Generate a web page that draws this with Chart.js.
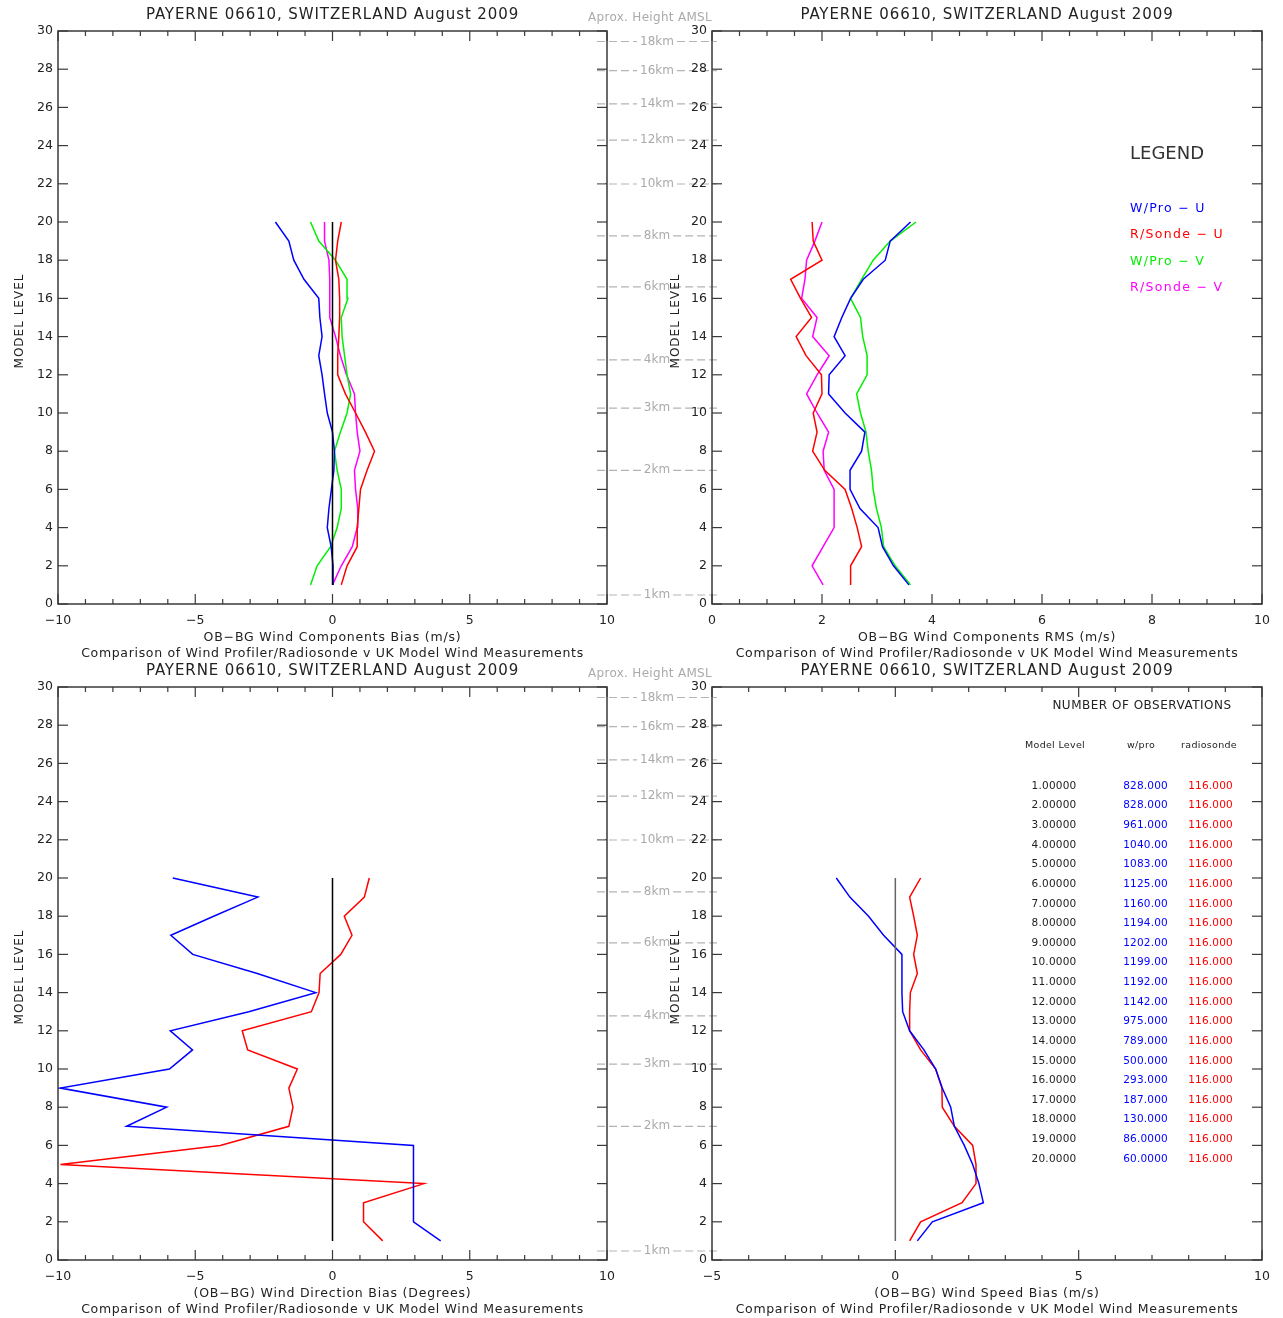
<!DOCTYPE html>
<html>
<head>
<meta charset="utf-8">
<script src="https://cdn.jsdelivr.net/npm/chart.js@4/dist/chart.umd.min.js"></script>
<style>
  body { margin: 0; background: #fff; width: 1283px; height: 1318px; position: relative; overflow: hidden; }
  canvas { position: absolute; }
</style>
</head>
<body>
<canvas id="tl" width="730" height="662" style="left:0;top:0"></canvas>
<canvas id="tr" width="643" height="662" style="left:640px;top:0"></canvas>
<canvas id="bl" width="730" height="662" style="left:0;top:656px"></canvas>
<canvas id="br" width="643" height="662" style="left:640px;top:656px"></canvas>
<script>
// Model levels 1..20 (y values of every profile)
const levels = [1, 2, 3, 4, 5, 6, 7, 8, 9, 10, 11, 12, 13, 14, 15, 16, 17, 18, 19, 20];

// Wind components bias (m/s), level 1 -> 20
const biasWproU = [0.02, 0.02, -0.05, -0.19, -0.13, -0.04, 0.05, 0.07, 0.0, -0.19, -0.29, -0.38, -0.5, -0.38, -0.46, -0.5, -1.04, -1.41, -1.59, -2.08];
const biasSondeU = [0.32, 0.53, 0.9, 0.9, 0.96, 1.02, 1.26, 1.53, 1.2, 0.84, 0.47, 0.19, 0.19, 0.23, 0.26, 0.26, 0.23, 0.11, 0.19, 0.32];
const biasWproV = [-0.8, -0.56, -0.07, 0.17, 0.32, 0.32, 0.17, 0.07, 0.29, 0.53, 0.66, 0.53, 0.44, 0.35, 0.32, 0.56, 0.53, 0.11, -0.5, -0.8];
const biasSondeV = [0.0, 0.32, 0.72, 0.9, 0.92, 0.84, 0.8, 1.0, 0.9, 0.84, 0.8, 0.51, 0.29, 0.11, -0.1, -0.1, -0.1, -0.13, -0.29, -0.29];

// Wind components RMS (m/s)
const rmsWproU = [3.58, 3.3, 3.1, 3.02, 2.69, 2.51, 2.51, 2.72, 2.78, 2.42, 2.12, 2.13, 2.42, 2.22, 2.36, 2.52, 2.75, 3.15, 3.24, 3.61];
const rmsSondeU = [2.52, 2.52, 2.72, 2.64, 2.54, 2.42, 2.05, 1.83, 1.91, 1.84, 2.0, 1.99, 1.71, 1.53, 1.81, 1.61, 1.43, 2.0, 1.84, 1.82];
const rmsWproV = [3.61, 3.33, 3.12, 3.08, 2.99, 2.93, 2.9, 2.84, 2.8, 2.7, 2.63, 2.82, 2.82, 2.74, 2.7, 2.52, 2.72, 2.93, 3.24, 3.71];
const rmsSondeV = [2.02, 1.82, 2.02, 2.22, 2.22, 2.22, 2.04, 2.02, 2.12, 1.91, 1.72, 1.91, 2.13, 1.83, 1.91, 1.63, 1.69, 1.72, 1.87, 2.0];

// Wind direction bias (degrees)
const dirWpro = [3.94, 2.95, 2.95, 2.95, 2.95, 2.95, -7.5, -6.04, -9.91, -5.94, -5.1, -5.91, -3.05, -0.61, -2.74, -5.09, -5.89, -4.33, -2.72, -5.82];
const dirSonde = [1.83, 1.13, 1.13, 3.33, -9.91, -4.09, -1.59, -1.44, -1.59, -1.28, -3.09, -3.29, -0.77, -0.49, -0.45, 0.3, 0.71, 0.43, 1.16, 1.34];

// Wind speed bias (m/s)
const spdWpro = [0.6, 1.01, 2.4, 2.28, 2.11, 1.88, 1.61, 1.51, 1.28, 1.1, 0.78, 0.39, 0.2, 0.18, 0.18, 0.18, -0.32, -0.73, -1.24, -1.61];
const spdSonde = [0.39, 0.69, 1.82, 2.2, 2.2, 2.11, 1.61, 1.28, 1.27, 1.1, 0.69, 0.39, 0.39, 0.41, 0.6, 0.5, 0.6, 0.5, 0.39, 0.69];

// Number of observations per level
const obsWpro = [828, 828, 961, 1040, 1083, 1125, 1160, 1194, 1202, 1199, 1192, 1142, 975, 789, 500, 293, 187, 130, 86, 60];
const obsSonde = [116, 116, 116, 116, 116, 116, 116, 116, 116, 116, 116, 116, 116, 116, 116, 116, 116, 116, 116, 116];

// Approximate height AMSL against model level
const heightLabels = ['1km', '2km', '3km', '4km', '6km', '8km', '10km', '12km', '14km', '16km', '18km'];
const heightLevels = [0.47, 7.0, 10.26, 12.78, 16.6, 19.27, 21.99, 24.29, 26.18, 27.93, 29.45];

const seriesLabels = ['W/Pro \u2212 U', 'R/Sonde \u2212 U', 'W/Pro \u2212 V', 'R/Sonde \u2212 V'];
const titleText = 'PAYERNE 06610, SWITZERLAND August 2009';
const subTitle = 'Comparison of Wind Profiler/Radiosonde v UK Model Wind Measurements';

const FONT = '"DejaVu Sans", "Liberation Sans", sans-serif';
const BLUE = '#0000ff', RED = '#ff0000', GREEN = '#00f000', MAGENTA = '#ff00ff';

function series(label, xs, color) {
    return {
        label: label,
        data: levels.map((lv, i) => ({ x: xs[i], y: lv })),
        borderColor: color,
        backgroundColor: color,
        borderWidth: 1.5,
        showLine: true,
        pointRadius: 0,
        fill: false
    };
}

// vertical reference line at x = 0 through all model levels
function zeroLine(color) {
    return {
        label: 'zero',
        data: [{ x: 0, y: levels[0] }, { x: 0, y: levels[levels.length - 1] }],
        borderColor: color,
        borderWidth: 1.5,
        showLine: true,
        pointRadius: 0,
        fill: false
    };
}

function text(ctx, s, x, y, size, color, align, spacing) {
    ctx.font = size + 'px ' + FONT;
    ctx.fillStyle = color;
    ctx.textAlign = align || 'center';
    ctx.textBaseline = 'middle';
    ctx.letterSpacing = (spacing || 0) + 'px';
    ctx.fillText(s, x, y);
    ctx.letterSpacing = '0px';
}

function seg(ctx, x1, y1, x2, y2) {
    ctx.beginPath();
    ctx.moveTo(x1, y1);
    ctx.lineTo(x2, y2);
    ctx.stroke();
}

const decor = {
    id: 'decor',
    afterDraw(chart, args, o) {
        const ctx = chart.ctx;
        const a = chart.chartArea;
        const x = chart.scales.x, y = chart.scales.y;
        ctx.save();

        // frame
        ctx.strokeStyle = '#3a3a3a';
        ctx.lineWidth = 1.5;
        ctx.strokeRect(a.left, a.top, a.right - a.left, a.bottom - a.top);

        // inward ticks, IDL style
        ctx.lineWidth = 1.2;
        const nx = Math.round((x.max - x.min) / o.minor);
        for (let i = 0; i <= nx; i++) {
            const v = x.min + i * o.minor;
            const px = x.getPixelForValue(v);
            const r = v / o.major;
            const len = Math.abs(r - Math.round(r)) < 1e-6 ? 10 : 5;
            seg(ctx, px, a.bottom, px, a.bottom - len);
            seg(ctx, px, a.top, px, a.top + len);
        }
        for (let v = y.min; v <= y.max; v += 2) {
            const py = y.getPixelForValue(v);
            seg(ctx, a.left, py, a.left + 10, py);
            seg(ctx, a.right, py, a.right - 10, py);
        }

        // titles
        const cx = (a.left + a.right) / 2;
        text(ctx, titleText, cx, a.top - 16, 15, '#222', 'center', 0.9);
        text(ctx, o.xTitle, cx, a.bottom + 34, 12.5, '#222', 'center', 0.8);
        text(ctx, subTitle, cx, a.bottom + 50, 12.5, '#222', 'center', 0.68);

        ctx.save();
        ctx.translate(a.left - o.yTitleOffset, a.top + 290);
        ctx.rotate(-Math.PI / 2);
        text(ctx, 'MODEL LEVEL', 0, 0, 12, '#222', 'center', 1);
        ctx.restore();

        // approximate height scale between the panels
        if (o.heights) {
            text(ctx, 'Aprox. Height AMSL', a.right + 43, a.top - 13, 12, '#aaa', 'center', 0.3);
            ctx.strokeStyle = '#b4b4b4';
            ctx.lineWidth = 1.2;
            ctx.setLineDash([8, 4]);
            ctx.font = '12px ' + FONT;
            heightLevels.forEach((lv, i) => {
                const py = y.getPixelForValue(lv);
                const w = ctx.measureText(heightLabels[i]).width;
                const lx = a.right + 50;
                seg(ctx, a.right - 10, py, lx - w / 2 - 3, py);
                seg(ctx, lx + w / 2 + 3, py, a.right + 110, py);
                text(ctx, heightLabels[i], lx, py, 12, '#aaa', 'center', 0);
                ctx.font = '12px ' + FONT;
            });
            ctx.setLineDash([]);
        }

        // legend
        if (o.legend) {
            text(ctx, 'LEGEND', a.left + 418, a.top + 123, 18, '#333', 'left', 0);
            chart.data.datasets.filter(d => d.label !== 'zero').forEach((d, i) => {
                text(ctx, d.label, a.left + 418, a.top + 178 + i * 26.2, 12.5, d.borderColor, 'left', 1.3);
            });
        }

        // observation count table
        if (o.table) {
            text(ctx, 'NUMBER OF OBSERVATIONS', a.left + 430, a.top + 19, 12, '#222', 'center', 0.5);
            text(ctx, 'Model Level', a.left + 343, a.top + 59, 9.5, '#222', 'center', 0.3);
            text(ctx, 'w/pro', a.left + 429, a.top + 59, 9.5, '#222', 'center', 0.3);
            text(ctx, 'radiosonde', a.left + 497, a.top + 59, 9.5, '#222', 'center', 0.3);
            levels.forEach((lv, i) => {
                const ry = a.top + 99 + i * 19.63;
                text(ctx, lv.toPrecision(6), a.left + 342, ry, 10.5, '#222', 'center', 0.2);
                text(ctx, obsWpro[i].toPrecision(6), a.left + 456, ry, 10.5, BLUE, 'right', 0.2);
                text(ctx, obsSonde[i].toPrecision(6), a.left + 521, ry, 10.5, RED, 'right', 0.2);
            });
        }
        ctx.restore();
    }
};

function minusLabel(v) {
    return v < 0 ? '\u2212' + Math.abs(v) : String(v);
}

function makeChart(id, area, xr, datasets, extra) {
    const canvas = document.getElementById(id);
    const W = canvas.width, H = canvas.height;
    return new Chart(canvas, {
        type: 'scatter',
        data: { datasets: datasets },
        plugins: [decor],
        options: {
            responsive: false,
            animation: false,
            events: [],
            layout: { padding: { left: 0, top: area.top, right: W - area.right, bottom: 0 } },
            scales: {
                x: {
                    type: 'linear',
                    min: xr.min,
                    max: xr.max,
                    grid: { display: false, drawTicks: false },
                    border: { display: false },
                    ticks: {
                        stepSize: xr.major,
                        autoSkip: false,
                        maxRotation: 0,
                        padding: 9,
                        color: '#222',
                        font: { family: FONT, size: 12.5 },
                        callback: minusLabel
                    },
                    afterFit: s => { s.height = H - area.bottom; }
                },
                y: {
                    type: 'linear',
                    min: 0,
                    max: 30,
                    grid: { display: false, drawTicks: false },
                    border: { display: false },
                    ticks: {
                        stepSize: 2,
                        autoSkip: false,
                        padding: 5,
                        color: '#222',
                        font: { family: FONT, size: 12.5 }
                    },
                    afterFit: s => { s.width = area.left; }
                }
            },
            plugins: {
                legend: { display: false },
                tooltip: { enabled: false },
                decor: Object.assign({ minor: xr.minor, major: xr.major }, extra)
            }
        }
    });
}

const leftArea = { left: 58, top: 31, right: 607, bottom: 604 };
const rightArea = { left: 72, top: 31, right: 622, bottom: 604 };

makeChart('tl', leftArea, { min: -10, max: 10, major: 5, minor: 1 }, [
    zeroLine('#000'),
    series(seriesLabels[0], biasWproU, BLUE),
    series(seriesLabels[1], biasSondeU, RED),
    series(seriesLabels[2], biasWproV, GREEN),
    series(seriesLabels[3], biasSondeV, MAGENTA)
], { xTitle: 'OB\u2212BG Wind Components Bias (m/s)', yTitleOffset: 38, heights: true });

makeChart('tr', rightArea, { min: 0, max: 10, major: 2, minor: 0.5 }, [
    series(seriesLabels[0], rmsWproU, BLUE),
    series(seriesLabels[1], rmsSondeU, RED),
    series(seriesLabels[2], rmsWproV, GREEN),
    series(seriesLabels[3], rmsSondeV, MAGENTA)
], { xTitle: 'OB\u2212BG Wind Components RMS (m/s)', yTitleOffset: 36, legend: true });

makeChart('bl', leftArea, { min: -10, max: 10, major: 5, minor: 1 }, [
    zeroLine('#000'),
    series('W/Pro', dirWpro, BLUE),
    series('R/Sonde', dirSonde, RED)
], { xTitle: '(OB\u2212BG) Wind Direction Bias (Degrees)', yTitleOffset: 38, heights: true });

makeChart('br', rightArea, { min: -5, max: 10, major: 5, minor: 1 }, [
    zeroLine('#666'),
    series('W/Pro', spdWpro, BLUE),
    series('R/Sonde', spdSonde, RED)
], { xTitle: '(OB\u2212BG) Wind Speed Bias (m/s)', yTitleOffset: 36, table: true });
</script>
</body>
</html>
